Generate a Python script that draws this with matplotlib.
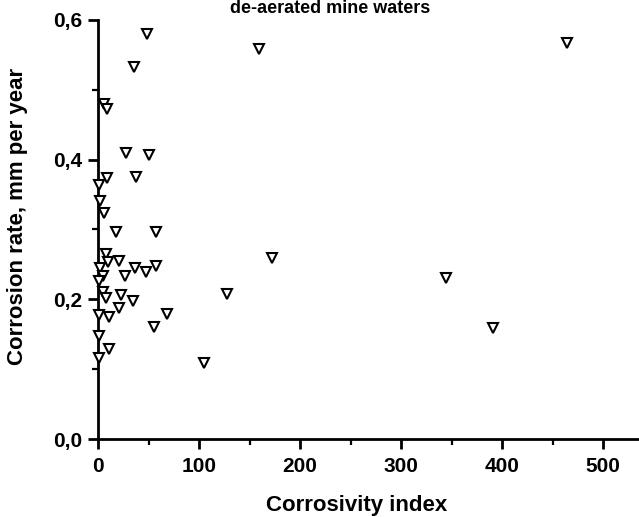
import numpy as np
import matplotlib
matplotlib.use("Agg")
import matplotlib.pyplot as plt
from matplotlib.ticker import MultipleLocator, FuncFormatter

# corrosivity index vs corrosion rate (mm/year)
corrosivity = [48.2, 159.1, 464.7, 35.3, 5.7, 8.6, 27.7, 50.0, 9.4, 37.3,
               1.0, 2.0, 5.9, 17.5, 57.7, 8.4, 9.6, 20.8, 1.5, 37.1,
               57.4, 47.5, 4.7, 26.4, 1.0, 4.7, 22.8, 7.6, 34.2, 20.5,
               1.0, 10.9, 68.8, 55.0, 1.0, 10.9, 1.0, 104.9, 128.0, 172.0,
               344.3, 391.0]
corrosion_rate = [0.580, 0.559, 0.567, 0.532, 0.480, 0.473, 0.410, 0.407, 0.374, 0.375,
                  0.364, 0.341, 0.323, 0.297, 0.297, 0.265, 0.254, 0.255, 0.245, 0.245,
                  0.248, 0.239, 0.234, 0.233, 0.226, 0.211, 0.206, 0.202, 0.198, 0.188,
                  0.178, 0.175, 0.179, 0.160, 0.148, 0.129, 0.116, 0.109, 0.208, 0.259,
                  0.230, 0.159]

plt.rcParams['font.family'] = ['Liberation Sans', 'DejaVu Sans']
plt.rcParams['font.weight'] = 'bold'

fig = plt.figure(figsize=(6.39, 5.17), dpi=100)
ax = fig.add_axes([98 / 639, 78 / 517, 541 / 639, 419 / 517])

ax.plot(corrosivity, corrosion_rate, linestyle='none', marker='v',
        markersize=7.8, markerfacecolor='white', markeredgecolor='black',
        markeredgewidth=1.5, clip_on=False, zorder=3)

ax.set_xlim(0, 535.6)
ax.set_ylim(0, 0.6)
ax.spines['top'].set_visible(False)
ax.spines['right'].set_visible(False)
ax.spines['left'].set_linewidth(2)
ax.spines['bottom'].set_linewidth(2)

ax.xaxis.set_major_locator(MultipleLocator(100))
ax.xaxis.set_minor_locator(MultipleLocator(50))
ax.yaxis.set_major_locator(MultipleLocator(0.2))
ax.yaxis.set_minor_locator(MultipleLocator(0.1))
ax.yaxis.set_major_formatter(FuncFormatter(lambda v, p: f"{v:.1f}".replace('.', ',')))

ax.tick_params(which='major', direction='out', length=7, width=2,
               labelsize=15, pad=4)
ax.tick_params(axis='x', which='major', pad=6)
ax.tick_params(which='minor', direction='out', length=4, width=1.6)
for lab in ax.get_xticklabels() + ax.get_yticklabels():
    lab.set_fontweight('bold')

fig.text(357 / 639, 1 - 505 / 517, "Corrosivity index", ha='center', va='center',
         fontsize=16, fontweight='bold')
fig.text(18 / 639, 1 - 216 / 517, "Corrosion rate, mm per year", ha='center',
         va='center', rotation=90, fontsize=16, fontweight='bold')
fig.text(330 / 639, 1.0, "de-aerated mine waters", ha='center',
         va='top', fontsize=13, fontweight='bold')

fig.savefig("out.png", dpi=100)
